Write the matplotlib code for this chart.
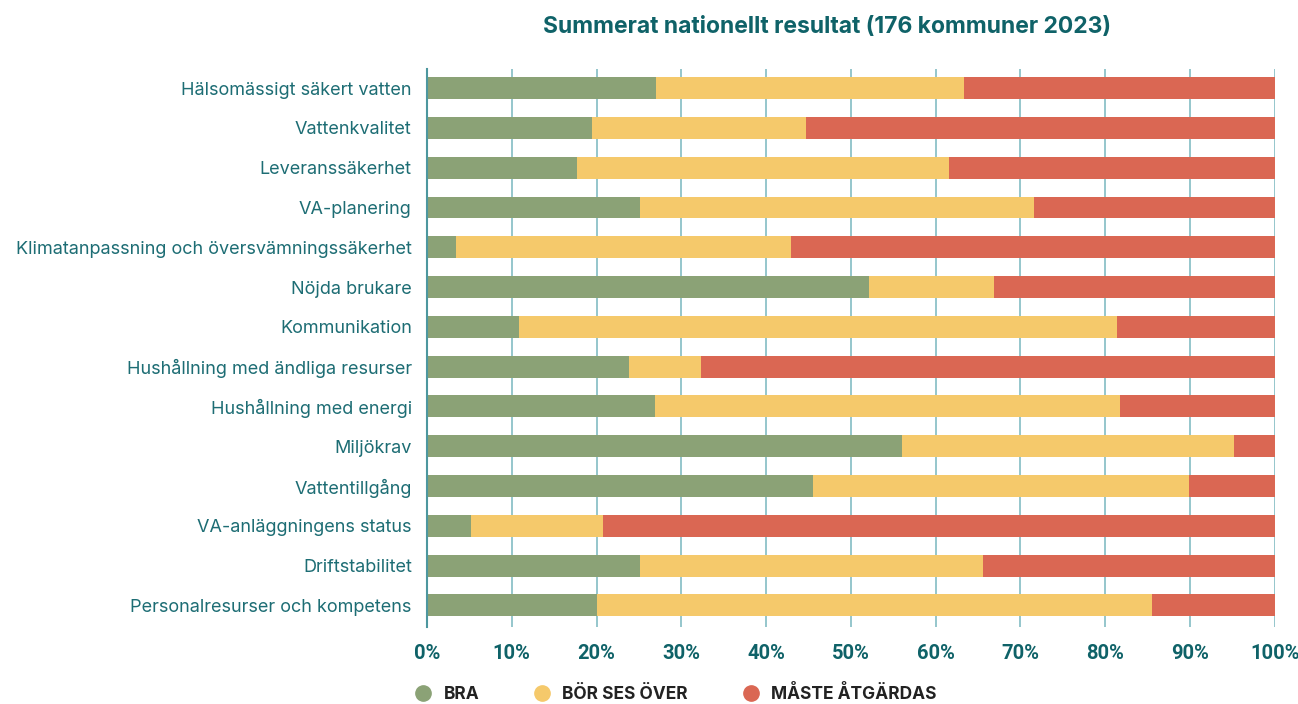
import numpy as np
import matplotlib
matplotlib.use("Agg")
import matplotlib.pyplot as plt
from matplotlib.lines import Line2D

categories = [
    "Hälsomässigt säkert vatten",
    "Vattenkvalitet",
    "Leveranssäkerhet",
    "VA-planering",
    "Klimatanpassning och översvämningssäkerhet",
    "Nöjda brukare",
    "Kommunikation",
    "Hushållning med ändliga resurser",
    "Hushållning med energi",
    "Miljökrav",
    "Vattentillgång",
    "VA-anläggningens status",
    "Driftstabilitet",
    "Personalresurser och kompetens",
]
bra = [27.0, 19.5, 17.7, 25.1, 3.4, 52.2, 10.8, 23.8, 26.9, 56.0, 45.5, 5.2, 25.1, 20.0]
bor = [36.3, 25.2, 43.9, 46.5, 39.5, 14.7, 70.6, 8.5, 54.8, 39.2, 44.4, 15.6, 40.5, 65.5]
maste = [36.7, 55.3, 38.4, 28.4, 57.1, 33.3, 18.6, 67.9, 18.3, 5.0, 10.1, 79.2, 34.6, 14.5]
series_names = ["BRA", "BÖR SES ÖVER", "MÅSTE ÅTGÄRDAS"]
ticks = np.arange(0, 101, 10)

colors = ["#8ba276", "#f5c96b", "#da6753"]
TEAL = "#0f6268"
LABEL = "#1d6d74"
GRID = "#8cc1c8"

plt.rcParams["font.family"] = ["Inter", "DejaVu Sans"]

fig = plt.figure(figsize=(12.98, 7.04), dpi=100)
ax = fig.add_axes([0.329, 0.109, 0.653, 0.793])

y = np.arange(len(categories))
left = np.zeros(len(categories))
for vals, col in zip((bra, bor, maste), colors):
    ax.barh(y, vals, left=left, height=0.55, color=col, zorder=2)
    left += np.array(vals)

ax.set_xlim(0, 100)
ax.set_ylim(13.55, -0.48)
ax.set_xticks(ticks)
ax.set_xticklabels([f"{t}%" for t in ticks], fontsize=14.5,
                   fontweight="bold", color=TEAL, family="Roboto")
ax.set_yticks(y)
ax.set_yticklabels(categories, fontsize=13, color=LABEL)
ax.tick_params(axis="both", length=0)
ax.tick_params(axis="x", pad=12)
ax.tick_params(axis="y", pad=11)
ax.xaxis.grid(True, color=GRID, lw=1.3, zorder=0)
for s in ("top", "bottom", "right"):
    ax.spines[s].set_visible(False)
ax.spines["left"].set_color("#4d979f")
ax.spines["left"].set_linewidth(1.5)

fig.text(0.637, 0.962, "Summerat nationellt resultat (176 kommuner 2023)",
         ha="center", va="center", fontsize=16.5, fontweight="bold",
         color=TEAL)

handles = [Line2D([], [], marker="o", ls="", ms=11, color=c) for c in colors]
leg = fig.legend(handles, series_names, loc="center", ncol=3,
                 bbox_to_anchor=(0.517, 0.014), frameon=False,
                 handletextpad=0.2, columnspacing=2.6,
                 prop={"size": 12.5, "weight": "bold"})
for t in leg.get_texts():
    t.set_color("#222222")

fig.savefig("out.png", dpi=100)
